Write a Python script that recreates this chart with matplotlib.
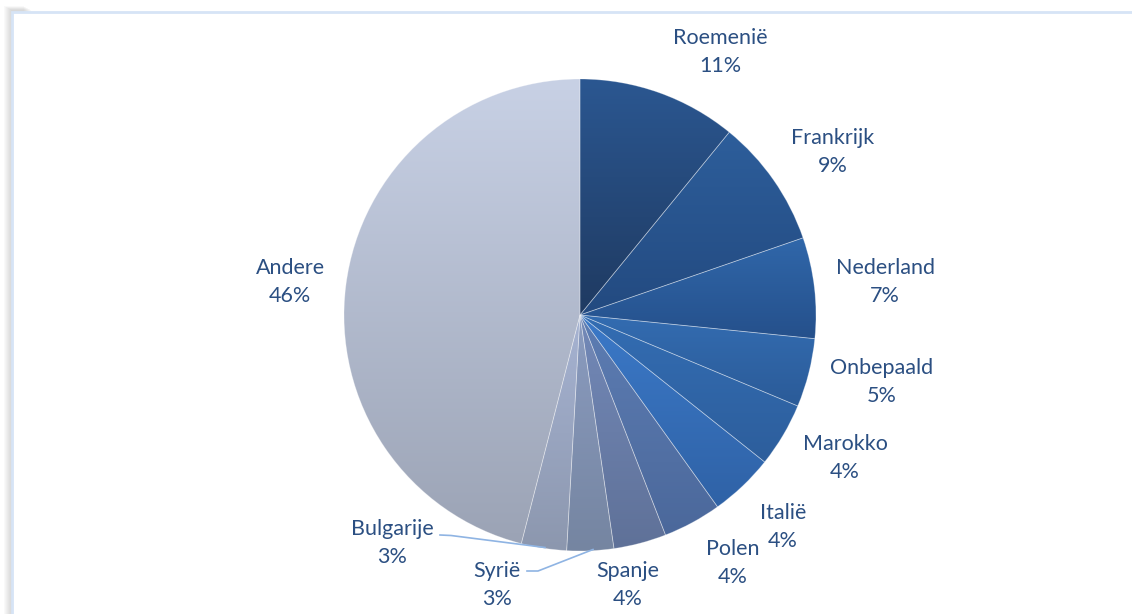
import matplotlib
matplotlib.use("Agg")
import matplotlib.pyplot as plt
import matplotlib.patches as mpatches
from matplotlib.colors import LinearSegmentedColormap
import numpy as np

# slice data, clockwise from 12 o'clock
landen = ["Roemenië", "Frankrijk", "Nederland", "Onbepaald", "Marokko", "Italië",
          "Polen", "Spanje", "Syrië", "Bulgarije", "Andere"]
aandeel = [10.9, 8.8, 6.9, 4.7, 4.4, 4.4, 4.0, 3.6, 3.2, 3.1, 46.0]

# per slice gradient (top colour, bottom colour)
kleur_boven = ["#2b5791", "#2d5e9b", "#3067aa", "#336cb1", "#336db3", "#3b79c8",
               "#5d7db3", "#7389b8", "#8b9cc0", "#a6b3d2", "#c8d1e5"]
kleur_onder = ["#1f3a61", "#234a80", "#25508b", "#2b5b98", "#2d5e9c", "#2f62a6",
               "#4b689b", "#5f7198", "#7585a1", "#8c97ae", "#9ba3b5"]

# label centres in pixels (x, y from top)
label_pos = [(720, 52), (833, 152), (885, 282), (882, 382), (845, 458), (783, 527),
             (733, 563), (628, 585), (497, 585), (392, 543), (290, 282)]

W, H = 1132, 614
TXT = "#2b4f82"


def main():
    fig = plt.figure(figsize=(W / 100, H / 100), dpi=100)
    ax = fig.add_axes([0, 0, 1, 1])

    # chart frame with a soft shadow on the left
    for i in range(8):
        ax.add_patch(mpatches.Rectangle((4 + i, -10), 20, H - 6 - i * 0.5 + 10,
                                        facecolor="#707070", alpha=0.035, lw=0, zorder=0))
    ax.add_patch(mpatches.Rectangle((12, -10), W + 20, H - 12 + 10,
                                    facecolor="white", edgecolor="#d6e4f6", lw=2, zorder=0.5))

    cx, cy, r = 580, H - 315, 236
    wedges, _ = ax.pie(aandeel, startangle=90, counterclock=False, radius=r,
                       center=(cx, cy), frame=True,
                       wedgeprops=dict(linewidth=0.6, edgecolor=(1, 1, 1, 0.3)))

    for w, c0, c1 in zip(wedges, kleur_boven, kleur_onder):
        w.set_zorder(3)
        w.set_facecolor("none")
        bb = w.get_path().get_extents(w.get_patch_transform())
        cmap = LinearSegmentedColormap.from_list("g", [c1, c0])
        grad = np.linspace(0, 1, 256).reshape(-1, 1)
        im = ax.imshow(grad, cmap=cmap, origin="lower", aspect="auto",
                       extent=[bb.x0, bb.x1, bb.y0, bb.y1], zorder=2)
        im.set_clip_path(w)

    ax.set_xlim(0, W)
    ax.set_ylim(0, H)
    ax.set_aspect("equal")
    ax.axis("off")

    for naam, v, (lx, ly) in zip(landen, aandeel, label_pos):
        ax.text(lx, H - ly, f"{naam}\n{round(v):.0f}%", ha="center", va="center",
                fontsize=15.5, color=TXT, family="Lato", linespacing=1.55, zorder=5)

    # leader lines for the two small bottom slices
    ax.plot([440, 451, 545], [H - 535, H - 535.5, H - 547.5], color="#8fb4e3", lw=1.2, zorder=4)
    ax.plot([527, 538, 593], [H - 571, H - 571, H - 549.5], color="#8fb4e3", lw=1.2, zorder=4)

    fig.savefig("out.png", dpi=100)


if __name__ == "__main__":
    main()
